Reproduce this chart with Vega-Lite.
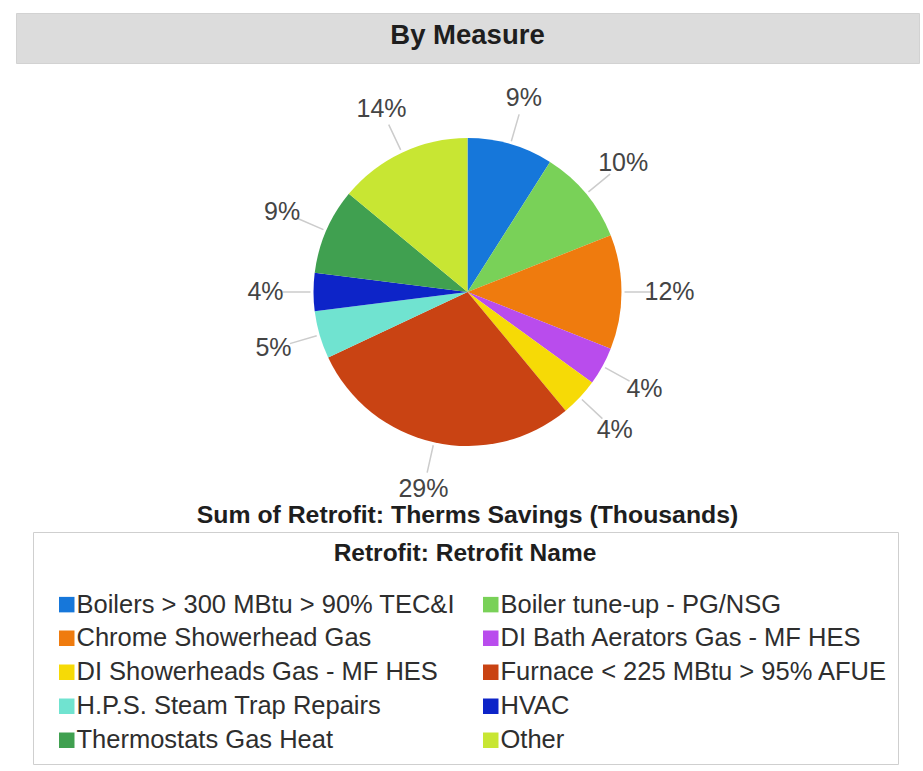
{
  "$schema": "https://vega.github.io/schema/vega-lite/v6.json",
  "background": "white",
  "padding": {"left": 15, "top": 12, "right": 5, "bottom": 4},
  "spacing": 0,
  "datasets": {
    "measures": [
      {"rank": 1, "measure": "Boilers > 300 MBtu > 90% TEC&I", "share": 0.09},
      {"rank": 2, "measure": "Boiler tune-up - PG/NSG", "share": 0.10},
      {"rank": 3, "measure": "Chrome Showerhead Gas", "share": 0.12},
      {"rank": 4, "measure": "DI Bath Aerators Gas - MF HES", "share": 0.04},
      {"rank": 5, "measure": "DI Showerheads Gas - MF HES", "share": 0.04},
      {"rank": 6, "measure": "Furnace < 225 MBtu > 95% AFUE", "share": 0.29},
      {"rank": 7, "measure": "H.P.S. Steam Trap Repairs", "share": 0.05},
      {"rank": 8, "measure": "HVAC", "share": 0.04},
      {"rank": 9, "measure": "Thermostats Gas Heat", "share": 0.09},
      {"rank": 10, "measure": "Other", "share": 0.14}
    ]
  },
  "vconcat": [
    {
      "width": 903,
      "height": 50,
      "view": {"fill": "#dcdcdc", "stroke": "#d2d2d2"},
      "data": {"values": [{"heading": "By Measure"}]},
      "mark": {"type": "text", "font": "Liberation Sans", "fontWeight": "bold", "fontSize": 27.5, "color": "#1e1e1e", "dy": -2},
      "encoding": {"text": {"field": "heading"}}
    },
    {
      "width": 903,
      "height": 456,
      "title": {
        "text": "Sum of Retrofit: Therms Savings (Thousands)",
        "orient": "bottom",
        "anchor": "middle",
        "offset": -17,
        "font": "Liberation Sans",
        "fontSize": 24.8,
        "fontWeight": "bold",
        "color": "#1e1e1e"
      },
      "data": {"name": "measures"},
      "encoding": {
        "theta": {"field": "share", "type": "quantitative", "stack": true},
        "order": {"field": "rank", "type": "quantitative"}
      },
      "layer": [
        {
          "mark": {"type": "arc", "outerRadius": 154},
          "encoding": {
            "color": {
              "field": "measure",
              "type": "nominal",
              "scale": {
                "domain": [
                  "Boilers > 300 MBtu > 90% TEC&I",
                  "Boiler tune-up - PG/NSG",
                  "Chrome Showerhead Gas",
                  "DI Bath Aerators Gas - MF HES",
                  "DI Showerheads Gas - MF HES",
                  "Furnace < 225 MBtu > 95% AFUE",
                  "H.P.S. Steam Trap Repairs",
                  "HVAC",
                  "Thermostats Gas Heat",
                  "Other"
                ],
                "range": ["#1677da", "#79d158", "#ef7b0e", "#b94ced", "#f6da06", "#c94313", "#70e3d0", "#0d24c8", "#40a050", "#c8e633"]
              },
              "legend": {
                "title": "Retrofit: Retrofit Name",
                "orient": "none",
                "legendX": 17,
                "legendY": 519,
                "columns": 2,
                "direction": "horizontal",
                "symbolType": "square",
                "symbolSize": 240,
                "symbolStrokeWidth": 0,
                "symbolOffset": 11,
                "labelFont": "Liberation Sans",
                "labelFontSize": 25.5,
                "labelColor": "#2e2e2e",
                "labelOffset": -3,
                "labelLimit": 0,
                "titleFont": "Liberation Sans",
                "titleFontSize": 24.5,
                "titleFontWeight": "bold",
                "titleColor": "#1e1e1e",
                "titleAnchor": "middle",
                "titleLimit": 800,
                "titlePadding": 25,
                "rowPadding": 7,
                "columnPadding": 12,
                "padding": 10,
                "strokeColor": "#cfcfcf"
              }
            }
          }
        },
        {
          "mark": {"type": "arc", "innerRadius": 157, "outerRadius": 185, "padAngle": 3.1, "fill": "transparent", "stroke": "#cccccc", "strokeWidth": 1.5}
        },
        {
          "mark": {"type": "text", "radius": 202, "font": "Liberation Sans", "fontSize": 25, "color": "#444444"},
          "encoding": {"text": {"field": "share", "type": "quantitative", "format": ".0%"}}
        }
      ]
    }
  ],
  "config": {
    "view": {"stroke": null}
  }
}
